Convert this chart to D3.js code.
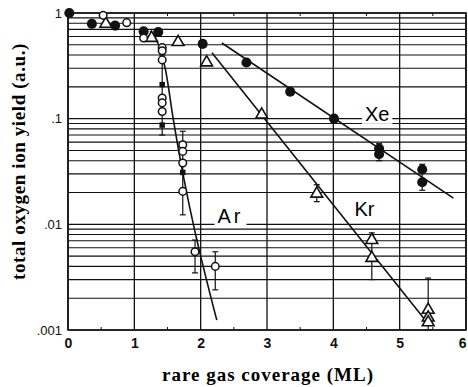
<!DOCTYPE html>
<html><head><meta charset="utf-8">
<script src="https://cdn.jsdelivr.net/npm/d3@7"></script>
<style>body{margin:0;background:#fff}svg{display:block}</style>
</head><body>
<svg id="c" width="468" height="387"></svg>
<script>
// ---- data ----
const xTicks = [0,1,2,3,4,5,6];
const yTicks = [0.001,0.01,0.1,1];
const yTickLabels = [".001",".01",".1","1"];

// Xe (filled)
const xeX = [0.02,0.36,0.71,1.14,1.36,2.03,2.69,3.35,4.01,4.69,4.69,5.34,5.34];
const xeY = [1.0,0.79,0.76,0.67,0.66,0.51,0.34,0.18,0.10,0.052,0.046,0.033,0.025];
// Ar (open circles)
const arX = [0.53,0.885,1.14,1.42,1.42,1.42,1.42,1.42,1.42,1.73,1.73,1.73,1.73,1.915,2.22];
const arY = [0.95,0.81,0.58,0.47,0.44,0.36,0.157,0.141,0.117,0.0567,0.049,0.038,0.0205,0.0055,0.004];
// Ar (small filled squares)
const arFX = [1.42,1.42,1.73];
const arFY = [0.21,0.087,0.031];
// Kr (open triangles)
const krX = [0.57,1.26,1.66,2.09,2.92,3.75,4.58,4.58,5.43,5.43,5.43];
const krY = [0.79,0.58,0.53,0.34,0.109,0.0195,0.0071,0.0048,0.00155,0.00131,0.00118];
// error bars
const errX  = [1.42,1.73,1.915,2.22,4.69,5.34,3.75,4.58,5.43];
const errHi = [0.40,0.076,0.0071,0.0055,0.058,0.037,0.0237,0.0083,0.0031];
const errLo = [0.07,0.0123,0.00347,0.0024,0.040,0.021,0.0164,0.003,0.001];
// fitted lines
const xeLineX = [2.32,5.81];
const xeLineY = [0.52,0.0177];
const krLineX = [2.17,5.36];
const krLineY = [0.42,0.0013];
const arLineX = [1.237,1.32,1.40,1.47,1.588,2.243];
const arLineY = [0.672,0.58,0.43,0.29,0.0978,0.00124];
// labels
const labNames = ["Xe","Kr","Ar"];
const labX = [4.66,4.47,2.45];
const labY = [0.107,0.0135,0.0115];

// ---- chart ----
const svg = d3.select("#c");
const L=68, R=466, T=13, B=330;
const x = d3.scaleLinear().domain([0,6]).range([L,R]);
const y = d3.scaleLog().domain([0.001,1]).range([B,T]);
const g = svg.append("g");

// grid
const minor=[];
[0.001,0.01,0.1].forEach(d=>{for(let k=1;k<=9;k++) minor.push(d*k);});
minor.push(1);
g.selectAll("line.hg").data(minor).enter().append("line")
  .attr("x1",L).attr("x2",R).attr("y1",d=>y(d)).attr("y2",d=>y(d))
  .attr("stroke","#111").attr("stroke-width",1.1);
g.selectAll("line.vg").data(xTicks).enter().append("line")
  .attr("x1",d=>x(d)).attr("x2",d=>x(d)).attr("y1",T).attr("y2",B)
  .attr("stroke","#111").attr("stroke-width",1.3);
// half ticks
const half=[0.5,1.5,2.5,3.5,4.5,5.5];
g.selectAll("line.ht").data(half).enter().append("line")
  .attr("x1",d=>x(d)).attr("x2",d=>x(d)).attr("y1",B-3).attr("y2",B).attr("stroke","#111");
g.selectAll("line.ht2").data(half).enter().append("line")
  .attr("x1",d=>x(d)).attr("x2",d=>x(d)).attr("y1",T).attr("y2",T+3).attr("stroke","#111");
g.append("rect").attr("x",L).attr("y",T).attr("width",R-L).attr("height",B-T)
  .attr("fill","none").attr("stroke","#111").attr("stroke-width",1.6);

// axes labels
const xa = d3.axisBottom(x).tickValues(xTicks).tickSize(0).tickPadding(8).tickFormat(d3.format("d"));
const xg = svg.append("g").attr("transform",`translate(0,${B})`).call(xa);
xg.select(".domain").remove();
xg.selectAll("text").attr("font-family","Liberation Sans, Arial, sans-serif").attr("font-size",14).attr("font-weight","bold").attr("fill","#111");
xg.selectAll("text").filter(d=>d===6).attr("text-anchor","end").attr("dx","0");
const ya = d3.axisLeft(y).tickValues(yTicks).tickSize(0).tickPadding(6).tickFormat((d,i)=>yTickLabels[i]);
const yg = svg.append("g").attr("transform",`translate(${L},0)`).call(ya);
yg.select(".domain").remove();
yg.selectAll("text").attr("font-family","Liberation Sans, Arial, sans-serif").attr("font-size",13).attr("fill","#111");

// fit lines
const line = d3.line().x(d=>x(d[0])).y(d=>y(d[1]));
[[xeLineX,xeLineY],[krLineX,krLineY]].forEach(([a,b])=>{
  g.append("path").attr("d",line(a.map((v,i)=>[v,b[i]]))).attr("fill","none").attr("stroke","#111").attr("stroke-width",1.6);
});
g.append("path").attr("d",d3.line().x(d=>x(d[0])).y(d=>y(d[1])).curve(d3.curveMonotoneX)(arLineX.map((v,i)=>[v,arLineY[i]])))
  .attr("fill","none").attr("stroke","#111").attr("stroke-width",1.6);

// labels with white boxes
labNames.forEach((n,i)=>{
  const t = g.append("text").attr("x",x(labX[i])).attr("y",y(labY[i]))
   .attr("font-family","Liberation Sans, Arial, sans-serif").attr("font-size",20)
   .attr("letter-spacing", n==="Ar"?"3px":"0px")
   .attr("text-anchor","middle").attr("dominant-baseline","middle").text(n);
  const bb = t.node().getBBox();
  g.insert("rect", () => t.node()).attr("x",bb.x-3).attr("y",bb.y).attr("width",bb.width+6).attr("height",bb.height-1).attr("fill","#fff");
});

// error bars
errX.forEach((v,i)=>{
  const xx=x(v);
  g.append("line").attr("x1",xx).attr("x2",xx).attr("y1",y(errHi[i])).attr("y2",y(errLo[i])).attr("stroke","#111").attr("stroke-width",1.2);
  [errHi[i],errLo[i]].forEach(e=>g.append("line").attr("x1",xx-3).attr("x2",xx+3).attr("y1",y(e)).attr("y2",y(e)).attr("stroke","#111").attr("stroke-width",1.2));
});

// markers
const sym = (type,size)=>d3.symbol().type(type).size(size)();
g.selectAll("path.xe").data(xeX.map((v,i)=>[v,xeY[i]])).enter().append("path")
  .attr("d",sym(d3.symbolCircle,80)).attr("transform",d=>`translate(${x(d[0])},${y(d[1])})`).attr("fill","#111");
g.selectAll("path.arf").data(arFX.map((v,i)=>[v,arFY[i]])).enter().append("path")
  .attr("d",sym(d3.symbolSquare,30)).attr("transform",d=>`translate(${x(d[0])},${y(d[1])})`).attr("fill","#111");
g.selectAll("path.kr").data(krX.map((v,i)=>[v,krY[i]])).enter().append("path")
  .attr("d",sym(d3.symbolTriangle,60)).attr("transform",d=>`translate(${x(d[0])},${y(d[1])})`)
  .attr("fill","#fff").attr("stroke","#111").attr("stroke-width",1.6);
g.selectAll("circle.ar").data(arX.map((v,i)=>[v,arY[i]])).enter().append("circle")
  .attr("cx",d=>x(d[0])).attr("cy",d=>y(d[1])).attr("r",3.8)
  .attr("fill","#fff").attr("stroke","#111").attr("stroke-width",1.5);

// axis titles
svg.append("text").attr("x",268).attr("y",381).attr("text-anchor","middle")
  .attr("font-family","Liberation Serif, Times New Roman, serif").attr("font-weight","bold").attr("font-size",19)
  .attr("letter-spacing","1px").text("rare gas coverage (ML)");
svg.append("text").attr("transform",`translate(25,${(T+B)/2-10}) rotate(-90)`).attr("text-anchor","middle")
  .attr("font-family","Liberation Serif, Times New Roman, serif").attr("font-weight","bold").attr("font-size",19)
  .attr("letter-spacing","0.6px").text("total oxygen ion yield (a.u.)");
</script>
</body></html>
